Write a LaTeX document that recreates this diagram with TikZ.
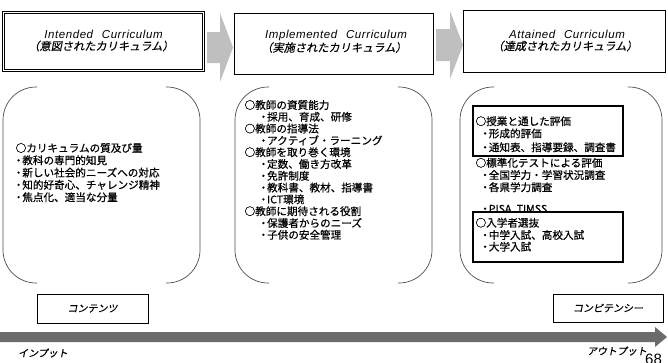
\documentclass[tikz,border=0pt]{standalone}
\usepackage{fontspec}
\setmainfont{Liberation Sans}
\newfontfamily\jp[FakeBold=0.6]{Noto Sans CJK JP}
\newfontfamily\jpsl[FakeSlant=0.2,FakeBold=0.4]{Noto Sans CJK JP}
\newfontfamily\latsp[LetterSpace=5]{Liberation Sans}
\newcommand\dt{\makebox[0.7em][c]{・}}
\definecolor{arrgray}{HTML}{BFBFBF}
\definecolor{bargray}{HTML}{6B6B6B}
\definecolor{brk}{HTML}{4D4D4D}
\begin{document}
\begin{tikzpicture}[x=1pt,y=-1pt,
  titleA/.style={inner sep=0, font=\latsp\itshape\fontsize{11.5}{12}\selectfont},
  titleB/.style={inner sep=0, font=\jpsl\fontsize{11.2}{12}\selectfont},
  item/.style={anchor=west, inner sep=0, font=\jp\fontsize{10.6}{12}\selectfont},
  bracket/.style={draw=brk, line width=0.7pt, rounded corners=33pt},
  tbox/.style={draw=black, inner sep=0},
  evbox/.style={draw=black, line width=1.1pt, inner sep=0, minimum width=150pt, minimum height=50pt},
  garrow/.style={fill=arrgray, draw=none},
  lbl/.style={inner sep=0, font=\jpsl\fontsize{10}{12}\selectfont}]
\useasboundingbox (0,0) rectangle (668,362);

% title boxes
\node[tbox, double, double distance=1.5pt, line width=0.6pt, minimum width=200pt, minimum height=58pt] (box1) at (103.5,41.5) {};
\node[tbox, line width=0.9pt, minimum width=199pt, minimum height=61pt] (box2) at (333.5,43.5) {};
\node[tbox, line width=0.9pt, minimum width=202pt, minimum height=62pt] (box3) at (564,41) {};

\node[titleA] (t1a) at (103.5,34) {Intended\hspace{5pt} Curriculum};
\node[titleB] (t1b) at (101,46) {（意図されたカリキュラム）};
\node[titleA] (t2a) at (336,35.5) {Implemented\hspace{5pt} Curriculum};
\node[titleB] (t2b) at (334,47.5) {（実施されたカリキュラム）};
\node[titleA] (t3a) at (567,34.5) {Attained\hspace{5pt} Curriculum};
\node[titleB] (t3b) at (565,46) {（達成されたカリキュラム）};

% gray block arrows
\fill[garrow] (207,32) -- (220,32) -- (220,13) -- (233,47.5) -- (220,82) -- (220,63) -- (207,63) -- cycle;
\fill[garrow] (436,29) -- (450,29) -- (450,11) -- (463,45) -- (450,79) -- (450,61) -- (436,61) -- cycle;

% brackets
\draw[bracket] (37,87) -- (3,87) -- (3,283) -- (37,283);
\draw[bracket] (166,87) -- (200,87) -- (200,283) -- (166,283);
\draw[bracket] (269,87) -- (235,87) -- (235,283) -- (269,283);
\draw[bracket] (398,87) -- (432,87) -- (432,283) -- (398,283);
\draw[bracket] (494,87) -- (460,87) -- (460,283) -- (494,283);
\draw[bracket] (628,87) -- (662,87) -- (662,283) -- (628,283);

% column 1
\foreach \x/\y/\t [count=\i] in {15.5/148/○カリキュラムの質及び量,
  14.7/160.3/\dt 教科の専門的知見,
  14.7/172.6/\dt 新しい社会的ニーズへの対応,
  14.7/184.9/\dt 知的好奇心、チャレンジ精神,
  14.7/197.2/\dt 焦点化、適当な分量}
  \node[item] (a\i) at (\x,\y) {\t};

% column 2
\foreach \x/\y/\t [count=\i] in {244.4/105/○教師の資質能力,
  259.5/116.8/\dt 採用、育成、研修,
  244.4/128.6/○教師の指導法,
  259.5/140.4/\dt アクティブ・ラーニング,
  244.4/152.2/○教師を取り巻く環境,
  259.5/164/\dt 定数、働き方改革,
  259.5/175.8/\dt 免許制度,
  259.5/187.6/\dt 教科書、教材、指導書,
  259.5/199.4/\dt ICT環境,
  244.4/211.2/○教師に期待される役割,
  259.5/223/\dt 保護者からのニーズ,
  259.5/234.8/\dt 子供の安全管理}
  \node[item] (b\i) at (\x,\y) {\t};

% column 3
\node[evbox] (evA) at (548,131) {};
\foreach \x/\y/\t [count=\i] in {475.4/121.2/○授業と通した評価,
  481.2/133.5/\dt 形成的評価,
  481.2/147.3/\dt 通知表、指導要録、調査書,
  475.4/162.8/○標準化テストによる評価,
  481.2/175/\dt 全国学力・学習状況調査,
  481.2/187.2/\dt 各県学力調査,
  481.2/209.8/{\dt PISA, TIMSS}}
  \node[item] (c\i) at (\x,\y) {\t};
\node[evbox, fill=white] (evB) at (548,237) {};
\foreach \x/\y/\t [count=\i from 8] in {475.4/222.7/○入学者選抜,
  481.2/235/\dt 中学入試、高校入試,
  481.2/246.7/\dt 大学入試}
  \node[item] (c\i) at (\x,\y) {\t};

% bottom
\node[tbox, line width=0.9pt, minimum width=111pt, minimum height=29pt, font=\jpsl\fontsize{10}{12}\selectfont] (cont) at (92.5,308.5) {コンテンツ};
\node[tbox, line width=0.9pt, minimum width=110pt, minimum height=28pt, font=\jpsl\fontsize{10}{12}\selectfont] (comp) at (608,308) {コンピテンシー};

\fill[bargray] (0,332) -- (655,332) -- (655,327) -- (667,337) -- (655,347) -- (655,342) -- (0,342) -- cycle;

\node[lbl] (inp) at (43,353) {インプット};
\node[lbl] (outp) at (617,351) {アウトプット};
\node[anchor=north west, inner sep=0, font=\fontsize{15}{16}\selectfont] (pg) at (645,354) {68};
\end{tikzpicture}
\end{document}
